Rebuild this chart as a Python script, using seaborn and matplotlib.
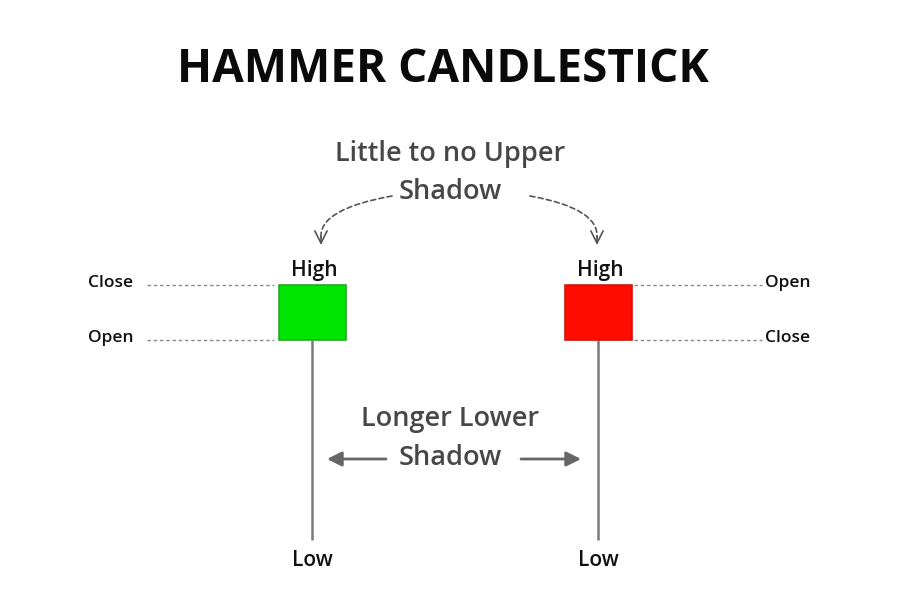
import matplotlib.pyplot as plt
import seaborn as sns

# candle values (price units)
candles = ["bullish", "bearish"]
opens = [260, 315]
closes = [315, 260]
highs = [315, 315]
lows = [60, 60]
body_colors = ["#00e600", "#ff0c00"]
edge_colors = ["#2aa52a", "#c81a10"]

left_labels = ["Close", "Open"]
right_labels = ["Open", "Close"]

sns.set_theme(style="white")
plt.rcParams['font.family'] = ['Open Sans', 'DejaVu Sans']

fig = plt.figure(figsize=(9, 6), dpi=100)
ax = fig.add_axes([0, 0, 1, 1])
ax.set_xlim(0, 900)
ax.set_ylim(0, 600)
ax.axis('off')

xs = [312, 598]
body_w = 67
wick_c = "#7a7a7a"
lab_c = '#111111'

for i, name in enumerate(candles):
    lo_b = min(opens[i], closes[i])
    hi_b = max(opens[i], closes[i])
    ax.vlines(xs[i], lows[i], lo_b, color=wick_c, lw=1.8, zorder=1)
    ax.bar(xs[i], hi_b - lo_b, bottom=lo_b, width=body_w,
           color=body_colors[i], edgecolor=edge_colors[i], lw=1.2, zorder=2)
    ax.text(xs[i] + 2, highs[i] + 4, "High", ha='center', va='bottom',
            fontsize=15, fontweight='semibold', color=lab_c)
    ax.text(xs[i], lows[i] - 10, "Low", ha='center', va='top',
            fontsize=15, fontweight='semibold', color=lab_c)

# dotted guide lines
ax.hlines([closes[0], opens[0]], 147, xs[0] - body_w / 2 - 5,
          colors='#8a8a8a', linestyles=(0, (2.5, 2)), lw=1)
ax.hlines([opens[1], closes[1]], xs[1] + body_w / 2 + 2, 762,
          colors='#8a8a8a', linestyles=(0, (2.5, 2)), lw=1)
for lab, y in zip(left_labels, [closes[0], opens[0]]):
    ax.text(88, y + 2, lab, ha='left', va='center', fontsize=12.5,
            fontweight='semibold', color=lab_c)
for lab, y in zip(right_labels, [opens[1], closes[1]]):
    ax.text(765, y + 2, lab, ha='left', va='center', fontsize=12.5,
            fontweight='semibold', color=lab_c)

# title
ax.text(443, 530, "HAMMER CANDLESTICK", ha='center', va='center',
        fontsize=33, fontweight='bold', color='#0a0a0a')

# upper shadow annotation
txt_c = '#474747'
ax.text(450, 446, "Little to no Upper", ha='center', va='center',
        fontsize=19.5, fontweight='semibold', color=txt_c)
ax.text(450, 408, "Shadow", ha='center', va='center', fontsize=19.5,
        fontweight='semibold', color=txt_c)

curve = dict(arrowstyle='-', color='#555555', lw=1.2, linestyle=(0, (3, 2)),
             shrinkA=0, shrinkB=0)
ax.annotate("", xy=(321, 362), xytext=(392, 404),
            arrowprops=dict(connectionstyle="angle3,angleA=10,angleB=95", **curve))
ax.annotate("", xy=(597, 362), xytext=(530, 404),
            arrowprops=dict(connectionstyle="angle3,angleA=-10,angleB=85", **curve))
head = dict(arrowstyle='->', color='#555555', lw=1.2, mutation_scale=22,
            shrinkA=0, shrinkB=0)
ax.annotate("", xy=(321, 355), xytext=(321, 363), arrowprops=head)
ax.annotate("", xy=(597, 355), xytext=(597, 363), arrowprops=head)

# lower shadow annotation
ax.text(450, 181, "Longer Lower", ha='center', va='center',
        fontsize=19.5, fontweight='semibold', color=txt_c)
ax.text(450, 142, "Shadow", ha='center', va='center', fontsize=19.5,
        fontweight='semibold', color=txt_c)
straight = dict(arrowstyle='-|>', color='#666666', lw=2, mutation_scale=22,
                shrinkA=0, shrinkB=0)
ax.annotate("", xy=(327, 141), xytext=(386, 141), arrowprops=straight)
ax.annotate("", xy=(581, 141), xytext=(521, 141), arrowprops=straight)

fig.savefig("out.png", dpi=100, facecolor='white')
